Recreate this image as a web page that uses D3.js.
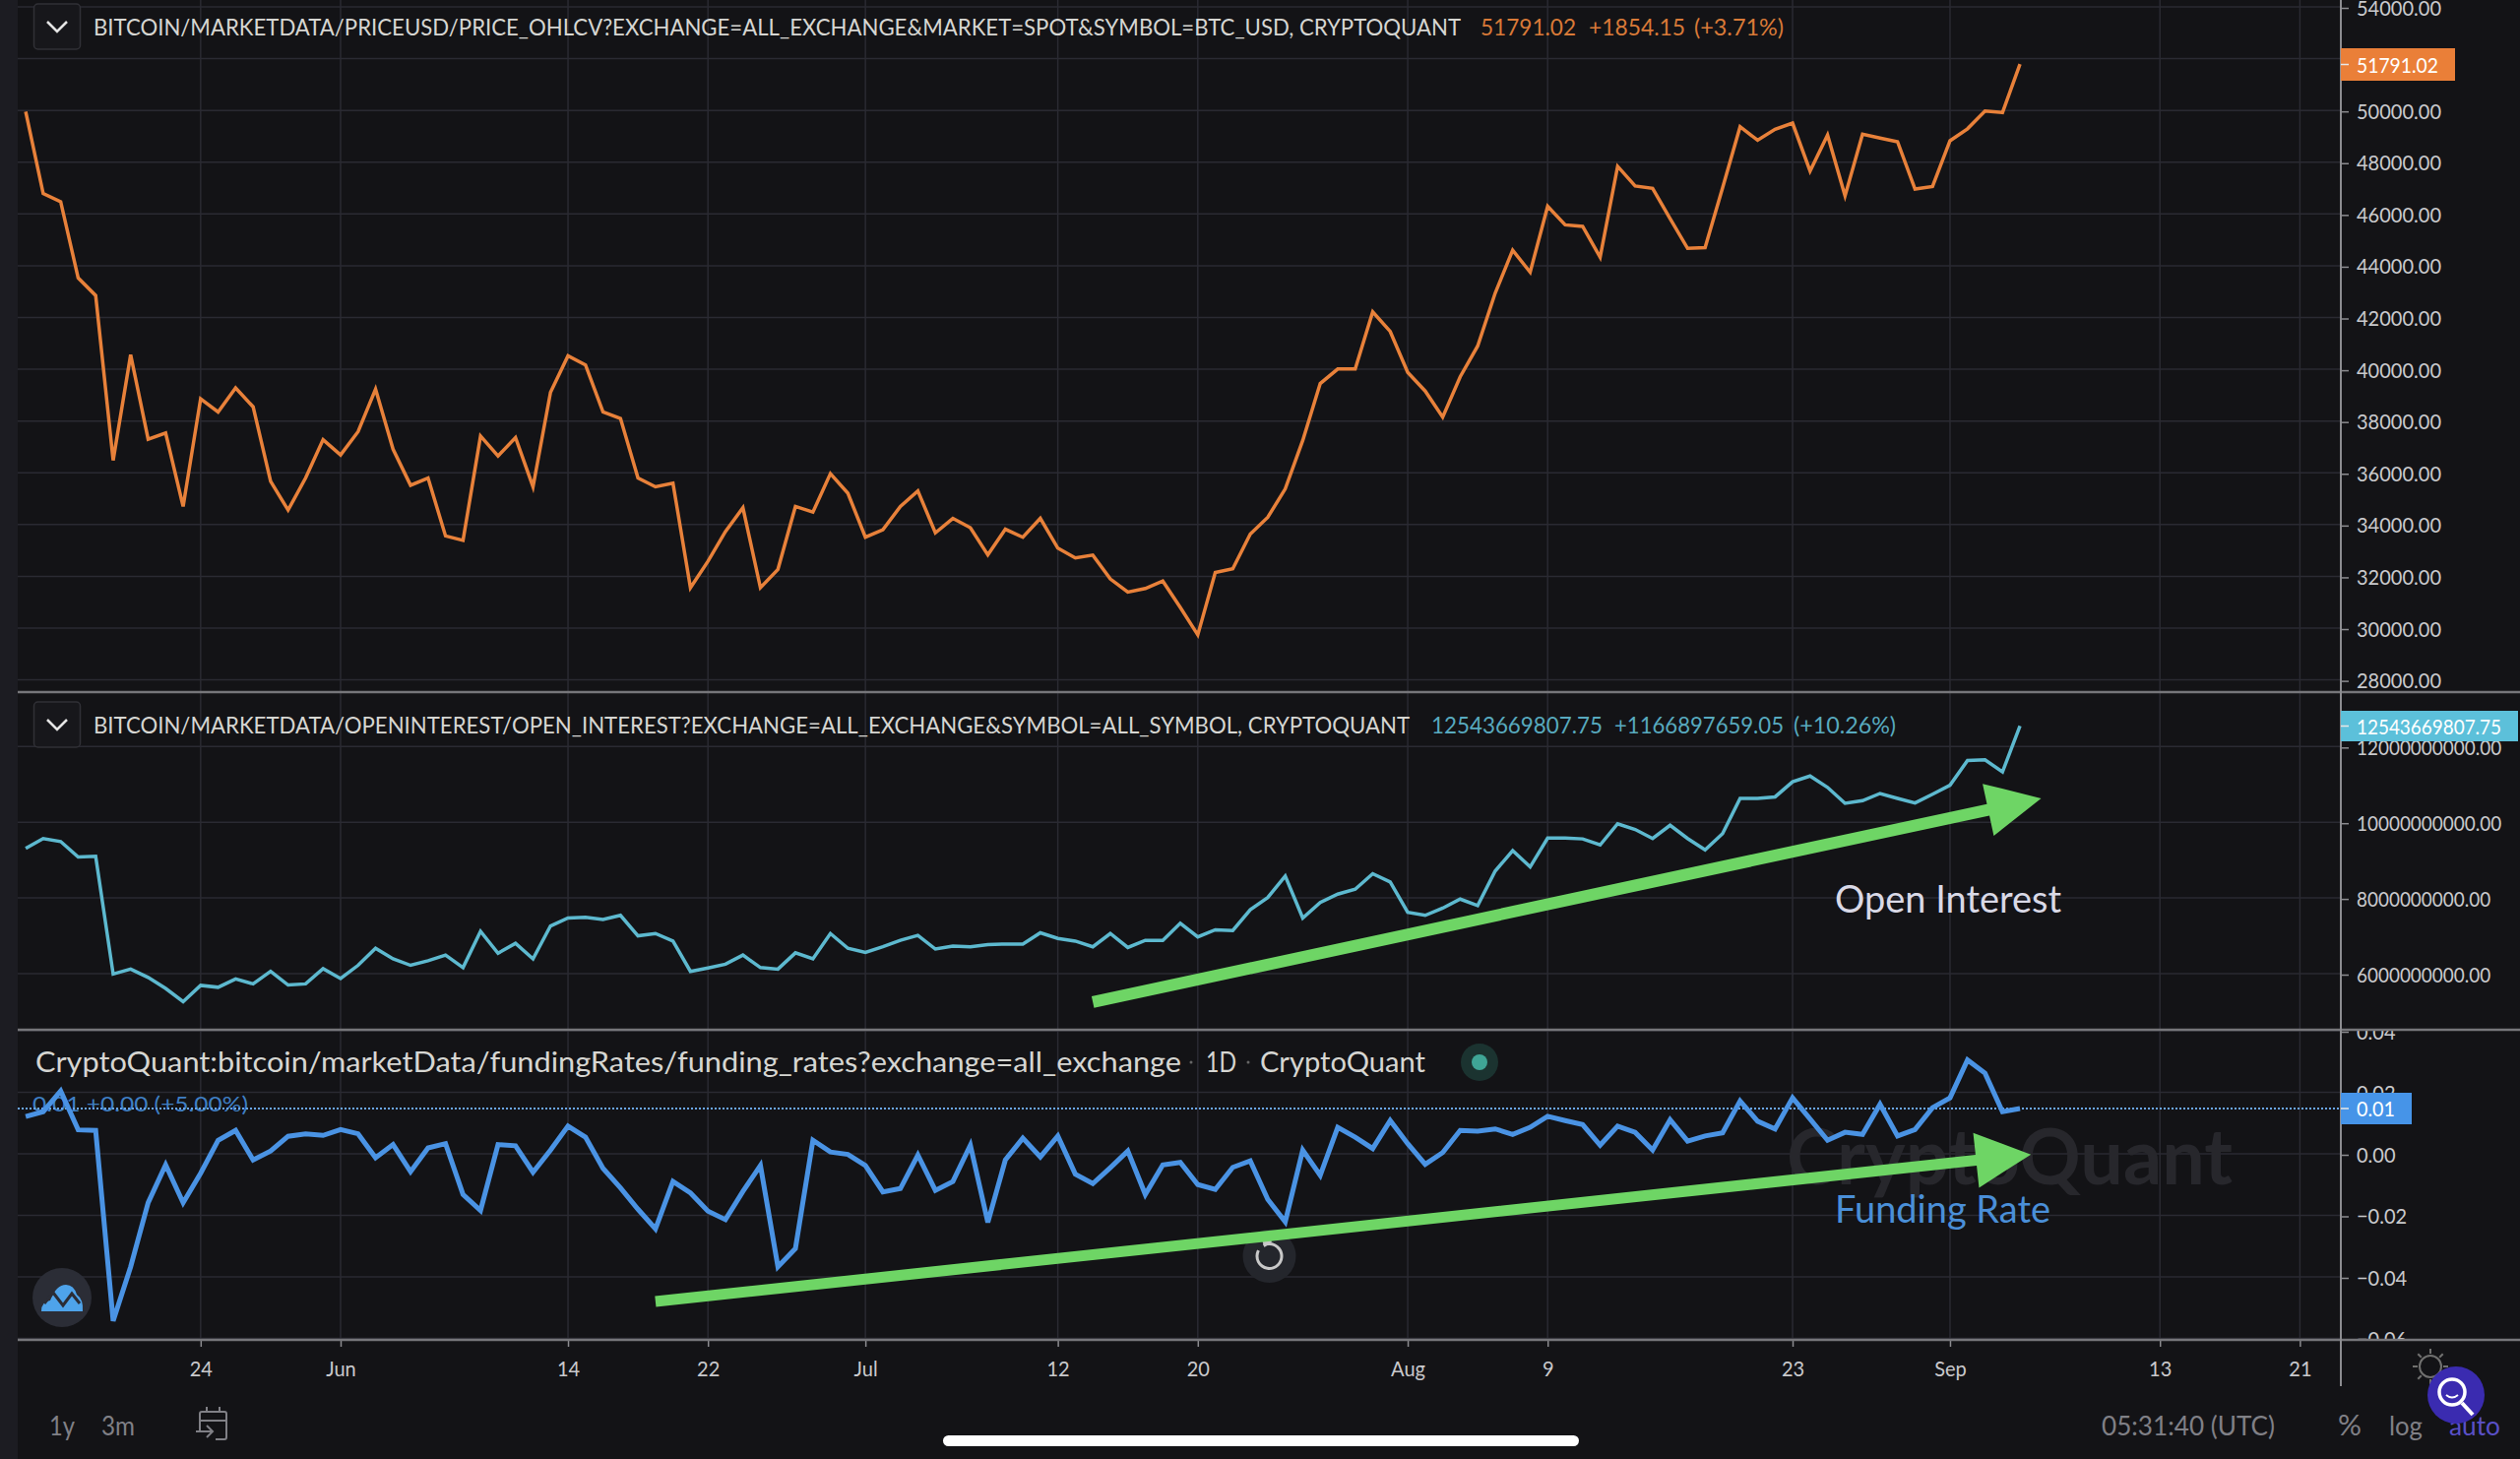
<!DOCTYPE html>
<html>
<head>
<meta charset="utf-8">
<script src="https://cdn.jsdelivr.net/npm/d3@7"></script>
<style>
  html, body { margin: 0; padding: 0; background: #131316; overflow: hidden; }
  svg { display: block; }
  text { font-family: Lato, "Open Sans", sans-serif; }
</style>
</head>
<body>
<script>
// daily values, 14 May to 5 Sep 2021
var startDate = new Date(Date.UTC(2021, 4, 14));
var endDate = new Date(Date.UTC(2021, 8, 6));

var priceValues = [
  49950, 46790, 46470, 43530, 42850, 36480, 40560, 37300, 37540, 34700, 38860, 38350, 39280, 38550, 35670, 34560, 35800, 37280,
  36690, 37590, 39230, 36910, 35520, 35800, 33560, 33390, 37420, 36650, 37360, 35460, 39110, 40520, 40170, 38350, 38100, 35800,
  35460, 35600, 31560, 32580, 33730, 34650, 31560, 32270, 34700, 34480, 35970, 35210,
  33510, 33800, 34700, 35300, 33680, 34240, 33880, 32830, 33820, 33510, 34240, 33090, 32710, 32820, 31900, 31390, 31530, 31820,
  30800, 29740, 32150, 32290, 33630, 34280, 35380, 37250, 39450, 40010, 40010, 42220, 41460,
  39880, 39160, 38150, 39710, 40900, 42940, 44600, 43750, 46300, 45580, 45520, 44330, 47840, 47080, 46990, 45820, 44670, 44700,
  47010, 49370, 48850, 49270, 49510, 47660, 49050, 46700, 49080, 48930, 48790, 46960, 47060,
  48830, 49290, 49980, 49920, 51791.02
];

var openInterestValues = [
  9.31e9, 9.57e9, 9.49e9, 9.08e9, 9.10e9, 5.99e9, 6.12e9, 5.90e9, 5.61e9, 5.26e9, 5.69e9, 5.64e9, 5.86e9, 5.73e9, 6.06e9, 5.70e9, 5.73e9, 6.13e9,
  5.87e9, 6.22e9, 6.67e9, 6.39e9, 6.22e9, 6.34e9, 6.49e9, 6.16e9, 7.12e9, 6.54e9, 6.80e9, 6.39e9, 7.26e9, 7.47e9, 7.49e9, 7.43e9, 7.54e9, 7.00e9,
  7.06e9, 6.86e9, 6.06e9, 6.15e9, 6.25e9, 6.49e9, 6.16e9, 6.12e9, 6.55e9, 6.39e9, 7.06e9, 6.67e9,
  6.56e9, 6.71e9, 6.88e9, 7.01e9, 6.65e9, 6.73e9, 6.71e9, 6.77e9, 6.78e9, 6.78e9, 7.08e9, 6.93e9, 6.86e9, 6.71e9, 7.06e9, 6.69e9, 6.88e9, 6.88e9,
  7.33e9, 6.97e9, 7.16e9, 7.14e9, 7.69e9, 8.01e9, 8.58e9, 7.47e9, 7.88e9, 8.10e9, 8.23e9, 8.64e9, 8.42e9,
  7.62e9, 7.54e9, 7.73e9, 7.97e9, 7.80e9, 8.71e9, 9.25e9, 8.82e9, 9.58e9, 9.58e9, 9.56e9, 9.40e9, 9.96e9, 9.81e9, 9.57e9, 9.92e9, 9.57e9, 9.27e9,
  9.70e9, 10.63e9, 10.63e9, 10.67e9, 11.07e9, 11.22e9, 10.92e9, 10.50e9, 10.57e9, 10.76e9, 10.63e9, 10.51e9, 10.74e9,
  10.98e9, 11.63e9, 11.65e9, 11.33e9, 12543669807.75
];

var fundingValues = [
  0.0121, 0.0137, 0.0204, 0.0078, 0.0076, -0.0543, -0.0367, -0.0159, -0.0036, -0.0159, -0.0063, 0.0044, 0.0076, -0.0020, 0.0009, 0.0057, 0.0065, 0.0060,
  0.0079, 0.0065, -0.0013, 0.0030, -0.0058, 0.0019, 0.0033, -0.0132, -0.0184, 0.0030, 0.0026, -0.0060, 0.0012, 0.0090, 0.0054, -0.0047, -0.0111, -0.0180,
  -0.0244, -0.0090, -0.0127, -0.0186, -0.0214, -0.0122, -0.0038, -0.0367, -0.0308, 0.0044, 0.0006, -0.0002,
  -0.0038, -0.0124, -0.0113, -0.0004, -0.0119, -0.0090, 0.0028, -0.0223, -0.0020, 0.0051, -0.0010, 0.0058, -0.0066, -0.0097, -0.0045, 0.0009, -0.0132, -0.0036,
  -0.0028, -0.0100, -0.0116, -0.0044, -0.0023, -0.0148, -0.0221, 0.0012, -0.0070, 0.0086, 0.0054, 0.0017, 0.0108,
  0.0033, -0.0034, 0.0004, 0.0076, 0.0074, 0.0081, 0.0063, 0.0086, 0.0122, 0.0108, 0.0095, 0.0028, 0.0090, 0.0070, 0.0012, 0.0111, 0.0041, 0.0058,
  0.0068, 0.0172, 0.0106, 0.0081, 0.0182, 0.0113, 0.0044, 0.0070, 0.0063, 0.0161, 0.0058, 0.0079, 0.0150,
  0.0182, 0.0305, 0.0262, 0.0137, 0.0147
];

var priceTicks = d3.range(28000, 54001, 2000);
var openInterestTicks = [6e9, 8e9, 10e9, 12e9];
var fundingTicks = [-0.06, -0.04, -0.02, 0, 0.02, 0.04];

var timeTicks = [[2021, 4, 24], [2021, 5, 1], [2021, 5, 14], [2021, 5, 22], [2021, 6, 1], [2021, 6, 12], [2021, 6, 20], [2021, 7, 1], [2021, 7, 9], [2021, 7, 23], [2021, 8, 1], [2021, 8, 13], [2021, 8, 21]]
  .map(function(d) { return new Date(Date.UTC(d[0], d[1], d[2])); });
var timeLabels = ["24", "Jun", "14", "22", "Jul", "12", "20", "Aug", "9", "23", "Sep", "13", "21"];

// layout
var width = 2560, height = 1482,
    left = 18, axisX = 2378,
    priceSep = 703, fundSep = 1046, bottomSep = 1361;

var colors = {
  bg: "#131316", strip: "#1c1c22", grid: "#2a2a32", sep: "#76767a", axis: "#8c8c90", label: "#c9c9cc", head: "#d6d6d2",
  price: "#e8813a", oi: "#5db9cf", fund: "#4a93e4", arrow: "#6ed565", muted: "#808086"
};

var svg = d3.select("body").append("svg")
    .attr("width", width)
    .attr("height", height);

svg.append("rect").attr("width", width).attr("height", height).attr("fill", colors.bg);
svg.append("rect").attr("width", left).attr("height", height).attr("fill", colors.strip);

var dates = d3.utcDay.range(startDate, endDate);

var x = d3.scaleUtc()
    .domain([startDate, new Date(Date.UTC(2021, 8, 21))])
    .range([26.1, 2336.4]);
var yPrice = d3.scaleLinear().domain([28000, 54000]).range([690.6, 7]);
var yOi = d3.scaleLinear().domain([6e9, 12e9]).range([989, 758.3]);
var yFund = d3.scaleLinear().domain([-0.06, 0.04]).range([1359.5, 1047]);

svg.append("clipPath").attr("id", "fundClip")
  .append("rect").attr("x", axisX).attr("y", fundSep + 1).attr("width", 182).attr("height", bottomSep - fundSep - 2);

// small helper, textLength keeps the long strings on the same width as the picture
function label(txt, px, py, size, fill, len) {
  var t = svg.append("text").attr("x", px).attr("y", py)
      .attr("font-size", size).attr("fill", fill).text(txt);
  if (len) t.attr("textLength", len).attr("lengthAdjust", "spacingAndGlyphs");
  return t;
}

// ****************** grid ***************************
var grid = svg.append("g").attr("stroke", colors.grid).attr("stroke-width", 1.5);

grid.selectAll("line.v").data(timeTicks).enter().append("line")
    .attr("x1", function(d) { return x(d); }).attr("x2", function(d) { return x(d); })
    .attr("y1", 0).attr("y2", bottomSep);

function hGrid(ticks, scale) {
  grid.append("g").selectAll("line").data(ticks).enter().append("line")
      .attr("x1", left).attr("x2", axisX)
      .attr("y1", function(d) { return scale(d); }).attr("y2", function(d) { return scale(d); });
}
hGrid(priceTicks, yPrice);
hGrid(openInterestTicks, yOi);
hGrid(fundingTicks, yFund);

// watermark sits under the lines
label("CryptoQuant", 1815, 1203, 78, "#27272c", 453).attr("font-weight", 700);

// funding readout runs under the line
label("0.01 +0.00 (+5.00%)", 33, 1129, 22, "#3f7fc4", 219);

// dotted last value line
var lastFund = yFund(fundingValues[fundingValues.length - 1]);
svg.append("line")
    .attr("x1", left).attr("x2", axisX)
    .attr("y1", lastFund).attr("y2", lastFund)
    .attr("stroke", "#6aa6ea").attr("stroke-width", 2).attr("stroke-dasharray", "2 2");

// reset button, below the arrow
var reset = svg.append("g").attr("transform", "translate(1289.5,1276)");
reset.append("circle").attr("r", 27).attr("fill", "#24262c");
reset.append("path").attr("d", d3.arc()({innerRadius: 11, outerRadius: 14, startAngle: -0.5, endAngle: 5.2})).attr("fill", "#c8c8c8");
reset.append("path").attr("d", "M-9,-21 L-5,-9 L3,-15 Z").attr("fill", "#c8c8c8");

// ****************** lines ***************************
function drawLine(values, scale, color, w) {
  var line = d3.line()
      .x(function(d, i) { return x(dates[i]); })
      .y(function(d) { return scale(d); });
  svg.append("path")
      .attr("d", line(values))
      .attr("fill", "none")
      .attr("stroke", color)
      .attr("stroke-width", w)
      .attr("stroke-linejoin", "miter");
}
drawLine(priceValues, yPrice, colors.price, 3.5);
drawLine(openInterestValues, yOi, colors.oi, 3.5);
drawLine(fundingValues, yFund, colors.fund, 5);

// ****************** arrows ***************************
var oiArrow = [[new Date(Date.UTC(2021, 6, 14)), 5.25e9], [new Date(Date.UTC(2021, 8, 6, 5)), 10.63e9]];
var fundArrow = [[new Date(Date.UTC(2021, 5, 19)), -0.048], [new Date(Date.UTC(2021, 8, 5, 15)), -0.0002]];

function drawArrow(a, scale, thick, headLen, headHalf) {
  var x0 = x(a[0][0]), y0 = scale(a[0][1]), x1 = x(a[1][0]), y1 = scale(a[1][1]);
  var len = Math.hypot(x1 - x0, y1 - y0), ux = (x1 - x0) / len, uy = (y1 - y0) / len, nx = -uy, ny = ux;
  var bx = x1 - ux * headLen, by = y1 - uy * headLen;
  var pts = [
    [x0 + nx * thick / 2, y0 + ny * thick / 2],
    [bx + nx * thick / 2, by + ny * thick / 2],
    [bx + nx * headHalf, by + ny * headHalf],
    [x1, y1],
    [bx - nx * headHalf, by - ny * headHalf],
    [bx - nx * thick / 2, by - ny * thick / 2],
    [x0 - nx * thick / 2, y0 - ny * thick / 2]
  ];
  svg.append("path").attr("d", d3.line()(pts) + "Z").attr("fill", colors.arrow);
}
drawArrow(oiArrow, yOi, 12, 55, 27);
drawArrow(fundArrow, yFund, 11, 56, 28);

label("Open Interest", 1864, 927, 39, "#d9d9e6", 230);
label("Funding Rate", 1864, 1242, 39, "#4a8fd8", 219);

// ****************** axes ***************************
function squeezeTicks(g, factor) {
  g.selectAll("text")
      .attr("fill", colors.label).attr("font-size", 22).attr("font-family", "Lato, sans-serif")
      .attr("lengthAdjust", "spacingAndGlyphs")
      .attr("textLength", function() { return this.getComputedTextLength() * factor; });
}

function rightAxis(scale, ticks, factor, clip) {
  var holder = svg.append("g");
  if (clip) holder.attr("clip-path", "url(#" + clip + ")");
  var g = holder.append("g")
      .attr("transform", "translate(" + axisX + ",1)")
      .call(d3.axisRight(scale).tickValues(ticks).tickFormat(d3.format(".2f")).tickSize(8).tickPadding(8));
  g.select(".domain").remove();
  g.selectAll("line").attr("stroke", colors.axis).attr("stroke-width", 1.5);
  squeezeTicks(g, factor);
}
rightAxis(yPrice, priceTicks, 0.91);
rightAxis(yOi, openInterestTicks, 0.86);
rightAxis(yFund, fundingTicks, 0.91, "fundClip");

var xAxis = svg.append("g")
    .attr("transform", "translate(0," + bottomSep + ")")
    .call(d3.axisBottom(x).tickValues(timeTicks)
        .tickFormat(function(d, i) { return timeLabels[i]; }).tickSize(7).tickPadding(14));
xAxis.select(".domain").remove();
xAxis.selectAll("line").attr("stroke", colors.axis).attr("stroke-width", 1.5);
squeezeTicks(xAxis, 0.91);

// pane separators and right axis line
[priceSep, fundSep, bottomSep].forEach(function(s) {
  svg.append("line").attr("x1", left).attr("x2", width).attr("y1", s).attr("y2", s)
      .attr("stroke", colors.sep).attr("stroke-width", 2.5);
});
svg.append("line").attr("x1", axisX).attr("x2", axisX).attr("y1", 0).attr("y2", 1408)
    .attr("stroke", colors.axis).attr("stroke-width", 2);

// last value tags
function tag(y0, y1, x1, color, txt, len) {
  svg.append("rect").attr("x", axisX).attr("y", y0).attr("width", x1 - axisX).attr("height", y1 - y0).attr("fill", color);
  svg.append("line").attr("x1", axisX).attr("x2", axisX + 8).attr("y1", (y0 + y1) / 2).attr("y2", (y0 + y1) / 2).attr("stroke", "#e8e8e8").attr("stroke-width", 1.5);
  label(txt, 2394, (y0 + y1) / 2 + 8, 22, "#ffffff", len);
}
tag(49, 82, 2494, "#ea7f38", "51791.02", 83);
tag(722, 753, 2558, "#5cc0da", "12543669807.75", 147);
tag(1110, 1142, 2450, "#4694e8", "0.01", 39);

// ****************** headers ***************************
function chevronBox(y0, y1) {
  svg.append("rect").attr("x", 34.5).attr("y", y0).attr("width", 47).attr("height", y1 - y0).attr("rx", 4)
      .attr("fill", "#17171b").attr("stroke", "#303036").attr("stroke-width", 1.5);
  var c = (y0 + y1) / 2;
  svg.append("path").attr("d", "M48," + (c - 5) + " L58," + (c + 5) + " L68," + (c - 5))
      .attr("fill", "none").attr("stroke", "#e4e4e4").attr("stroke-width", 2.5);
}
chevronBox(4, 50);
chevronBox(713, 759);

label("BITCOIN/MARKETDATA/PRICEUSD/PRICE_OHLCV?EXCHANGE=ALL_EXCHANGE&MARKET=SPOT&SYMBOL=BTC_USD, CRYPTOQUANT", 95, 36, 24, colors.head, 1389);
label("51791.02", 1504, 36, 24, "#d97a38", 97);
label("+1854.15", 1614, 36, 24, "#d97a38", 98);
label("(+3.71%)", 1721, 36, 24, "#d97a38", 91);

label("BITCOIN/MARKETDATA/OPENINTEREST/OPEN_INTEREST?EXCHANGE=ALL_EXCHANGE&SYMBOL=ALL_SYMBOL, CRYPTOQUANT", 95, 745, 24, colors.head, 1337);
label("12543669807.75", 1454, 745, 24, "#58aabf", 174);
label("+1166897659.05", 1640, 745, 24, "#58aabf", 172);
label("(+10.26%)", 1822, 745, 24, "#58aabf", 104);

label("CryptoQuant:bitcoin/marketData/fundingRates/funding_rates?exchange=all_exchange", 36, 1089, 28, colors.head, 1164);
label("1D", 1225, 1089, 28, colors.head, 31);
label("CryptoQuant", 1280, 1089, 28, colors.head, 168);
svg.append("circle").attr("cx", 1210).attr("cy", 1079).attr("r", 1.5).attr("fill", "#666");
svg.append("circle").attr("cx", 1268).attr("cy", 1079).attr("r", 1.5).attr("fill", "#666");
svg.append("circle").attr("cx", 1503).attr("cy", 1079).attr("r", 19).attr("fill", "#1b3330");
svg.append("circle").attr("cx", 1503).attr("cy", 1079).attr("r", 8).attr("fill", "#3fa596");

// ****************** bottom bar ***************************
label("1y", 50, 1458, 27, colors.muted, 26);
label("3m", 103, 1458, 27, colors.muted, 34);
label("05:31:40 (UTC)", 2135, 1458, 27, colors.muted, 176);
label("%", 2375, 1458, 29, colors.muted, 24);
label("log", 2427, 1458, 27, colors.muted, 34);
label("auto", 2488, 1458, 27, "#5a50c8", 52);

// calendar icon
svg.append("path")
    .attr("transform", "translate(0,3)")
    .attr("d", "M203,1452 L203,1433 Q203,1431 205,1431 L228,1431 Q230,1431 230,1433 L230,1457 Q230,1459 228,1459 L219,1459 M203,1440 L230,1440 M210,1431 L210,1426 M223,1431 L223,1426 M199,1451 L216,1451 M210,1445 L216,1451 L210,1457")
    .attr("fill", "none").attr("stroke", colors.muted).attr("stroke-width", 2);

// sun icon
var sun = svg.append("g").attr("transform", "translate(2469,1388)");
sun.append("circle").attr("r", 11).attr("fill", "none").attr("stroke", "#70706f").attr("stroke-width", 2);
sun.selectAll("line").data(d3.range(8)).enter().append("line")
    .attr("x1", function(d) { return 13 * Math.cos(d * Math.PI / 4); })
    .attr("y1", function(d) { return 13 * Math.sin(d * Math.PI / 4); })
    .attr("x2", function(d) { return 18 * Math.cos(d * Math.PI / 4); })
    .attr("y2", function(d) { return 18 * Math.sin(d * Math.PI / 4); })
    .attr("stroke", "#70706f").attr("stroke-width", 2);

// search bubble
var search = svg.append("g").attr("transform", "translate(2495,1417)");
search.append("circle").attr("r", 29).attr("fill", "#3a2bb0");
search.append("circle").attr("cx", -4).attr("cy", -3).attr("r", 13).attr("fill", "none").attr("stroke", "#fff").attr("stroke-width", 3.5);
search.append("path").attr("d", "M6,8 L17,20").attr("stroke", "#fff").attr("stroke-width", 4);
search.append("path").attr("d", "M-10,0 Q-4,5 2,0").attr("fill", "none").attr("stroke", "#fff").attr("stroke-width", 2);

// app logo button
var logo = svg.append("g").attr("transform", "translate(63,1318)");
logo.append("circle").attr("r", 30).attr("fill", "#2b2d36");
logo.append("path")
    .attr("d", "M-21,14 Q-21,4 -12,3 Q-6,-13 4,-13 Q12,-13 15,-3 Q22,2 21,14 Z")
    .attr("fill", "#4ea3ea");
logo.append("path").attr("d", "M-18,6 L-9,-5 L1,8 L10,-4 L18,6")
    .attr("fill", "none").attr("stroke", "#2b2d36").attr("stroke-width", 3);

// home indicator
svg.append("rect").attr("x", 958).attr("y", 1458).attr("width", 646).attr("height", 11).attr("rx", 5.5).attr("fill", "#ffffff");
</script>
</body>
</html>
